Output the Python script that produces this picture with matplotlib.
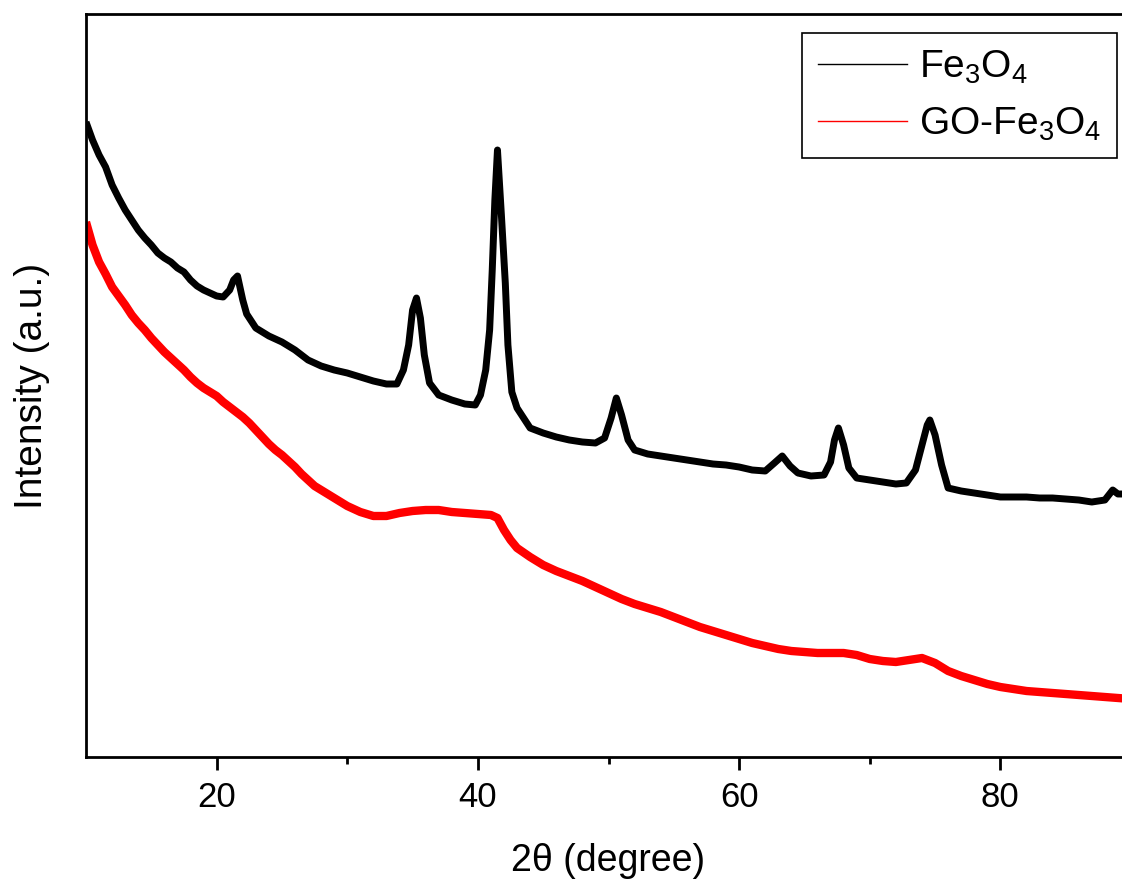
import matplotlib
matplotlib.use("Agg")
import matplotlib.pyplot as plt
from matplotlib.lines import Line2D

plt.rcParams['font.family'] = ['Liberation Sans', 'DejaVu Sans']
plt.rcParams['mathtext.fontset'] = 'custom'
plt.rcParams['mathtext.rm'] = 'Liberation Sans'
plt.rcParams['mathtext.it'] = 'Liberation Sans:italic'
plt.rcParams['mathtext.bf'] = 'Liberation Sans:bold'

# ---- data (2theta in degrees, intensity in a.u.) ----
fe3o4_2theta = [10.0, 10.5, 11.0, 11.5, 12.0, 12.5, 13.0, 13.5, 14.0, 14.5, 15.0, 15.5,
                16.0, 16.5, 17.0, 17.5, 18.0, 18.5, 19.0, 19.5, 20.0, 20.5, 21.0, 21.3,
                21.6, 22.0, 22.3, 23.0, 24.0, 25.0, 26.0, 27.0, 28.0, 29.0, 30.0, 31.0,
                32.0, 33.0, 33.8, 34.3, 34.7, 35.0, 35.3, 35.6, 35.9, 36.3, 37.0, 38.0,
                39.0, 39.8, 40.2, 40.6, 40.9, 41.1, 41.3, 41.5, 41.8, 42.1, 42.3, 42.6,
                43.0, 43.5, 44.0, 45.0, 46.0, 47.0, 48.0, 49.0, 49.7, 50.2, 50.6, 51.0,
                51.5, 52.0, 53.0, 54.0, 55.0, 56.0, 57.0, 58.0, 59.0, 60.0, 61.0, 62.0,
                62.7, 63.3, 63.9, 64.5, 65.5, 66.5, 67.0, 67.3, 67.6, 68.0, 68.4, 69.0,
                70.0, 71.0, 72.0, 72.8, 73.5, 74.0, 74.4, 74.6, 75.0, 75.5, 76.0, 77.0,
                78.0, 79.0, 80.0, 81.0, 82.0, 83.0, 84.0, 85.0, 86.0, 87.0, 88.0, 88.6,
                89.0, 90.0]
fe3o4_intensity = [635, 617, 602, 590, 572, 559, 547, 537, 527, 519, 512, 504,
                   499, 495, 489, 485, 477, 471, 467, 464, 461, 460, 467, 477,
                   481, 457, 443, 429, 421, 415, 407, 397, 391, 387, 384, 380,
                   376, 373, 373, 387, 412, 447, 459, 439, 402, 374, 362, 357,
                   353, 352, 362, 387, 427, 487, 557, 607, 542, 474, 412, 365,
                   349, 339, 329, 324, 320, 317, 315, 314, 319, 339, 359, 342,
                   317, 307, 303, 301, 299, 297, 295, 293, 292, 290, 287, 286,
                   294, 301, 291, 284, 281, 282, 295, 317, 329, 312, 289, 279,
                   277, 275, 273, 274, 287, 312, 332, 337, 322, 292, 269, 266,
                   264, 262, 260, 260, 260, 259, 259, 258, 257, 255, 257, 267,
                   263, 263]

go_2theta = [10.0, 10.5, 11.0, 11.5, 12.0, 12.5, 13.0, 13.5, 14.0, 14.5, 15.0, 15.5,
             16.0, 16.5, 17.0, 17.5, 18.0, 18.5, 19.0, 19.5, 20.0, 20.5, 21.0, 21.5,
             22.0, 22.5, 23.0, 23.5, 24.0, 24.5, 25.0, 25.5, 26.0, 26.5, 27.0, 27.5,
             28.0, 28.5, 29.0, 29.5, 30.0, 31.0, 32.0, 33.0, 34.0, 35.0, 36.0, 37.0,
             38.0, 39.0, 40.0, 41.0, 41.5, 42.0, 42.5, 43.0, 44.0, 45.0, 46.0, 47.0,
             48.0, 49.0, 50.0, 51.0, 52.0, 53.0, 54.0, 55.0, 56.0, 57.0, 58.0, 59.0,
             60.0, 61.0, 62.0, 63.0, 64.0, 65.0, 66.0, 67.0, 68.0, 69.0, 70.0, 71.0,
             72.0, 73.0, 74.0, 75.0, 76.0, 77.0, 78.0, 79.0, 80.0, 81.0, 82.0, 83.0,
             84.0, 85.0, 86.0, 87.0, 88.0, 89.0, 90.0]
go_intensity = [535, 512, 495, 483, 470, 461, 452, 442, 434, 427, 419, 412,
                405, 399, 393, 387, 380, 374, 369, 365, 361, 355, 350, 345,
                340, 334, 327, 320, 313, 307, 302, 296, 290, 283, 277, 271,
                267, 263, 259, 255, 251, 245, 241, 241, 244, 246, 247, 247,
                245, 244, 243, 242, 239, 227, 217, 209, 200, 192, 186, 181,
                176, 170, 164, 158, 153, 149, 145, 140, 135, 130, 126, 122,
                118, 114, 111, 108, 106, 105, 104, 104, 104, 102, 98, 96,
                95, 97, 99, 94, 86, 81, 77, 73, 70, 68, 66, 65,
                64, 63, 62, 61, 60, 59, 58]

series_labels = ['Fe$_3$O$_4$', 'GO-Fe$_3$O$_4$']
series_colors = ['black', '#ff0000']
x_ticks = [20, 40, 60, 80]

W, H = 1122, 880
fig = plt.figure(figsize=(W / 100, H / 100), dpi=100)
ax = fig.add_axes([86 / W, (H - 757) / H, (1131 - 86) / W, (757 - 14) / H])

ax.plot(fe3o4_2theta, fe3o4_intensity, color=series_colors[0], lw=5.0,
        solid_joinstyle='round', solid_capstyle='butt')
ax.plot(go_2theta, go_intensity, color=series_colors[1], lw=6.0,
        solid_joinstyle='round', solid_capstyle='butt')

ax.set_xlim(10, 90)
ax.set_ylim(0, 743)
ax.set_xticks(x_ticks)
ax.set_xticks([30, 50, 70, 90], minor=True)
ax.set_yticks([])
for s in ax.spines.values():
    s.set_linewidth(2.0)
ax.tick_params(axis='x', which='major', direction='out', length=9, width=2,
               labelsize=25, pad=8)
ax.tick_params(axis='x', which='minor', direction='out', length=5, width=2)

ax.set_xlabel('2θ (degree)', fontsize=27, labelpad=21)
ax.set_ylabel('Intensity (a.u.)', fontsize=28, labelpad=26)

handles = [Line2D([], [], color=series_colors[0], lw=1.0),
           Line2D([], [], color=series_colors[1], lw=1.0)]
leg = ax.legend(handles, series_labels, loc='upper left',
                bbox_to_anchor=(802 / W, 1 - 33 / H), bbox_transform=fig.transFigure,
                fontsize=28, frameon=True, fancybox=False, framealpha=1,
                edgecolor='black', handlelength=2.3, handletextpad=0.3,
                borderpad=0.4, labelspacing=0.5, borderaxespad=0)
leg.get_frame().set_linewidth(1.2)

fig.savefig('out.png', dpi=100)
